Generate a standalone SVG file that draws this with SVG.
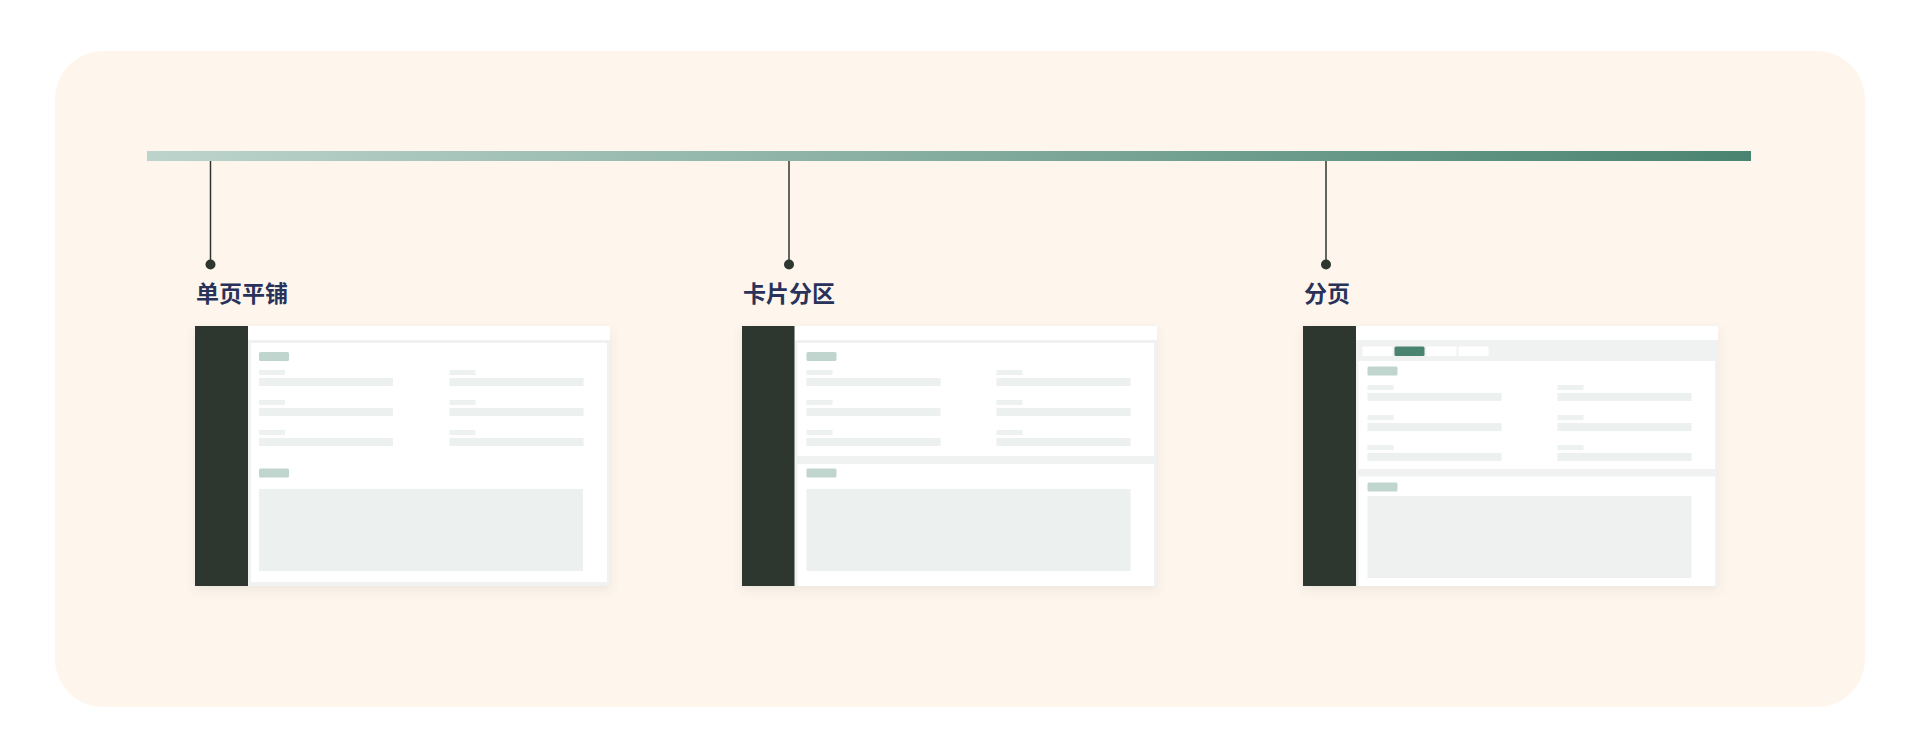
<svg xmlns="http://www.w3.org/2000/svg" width="1920" height="752" viewBox="0 0 1920 752">
<defs>
<linearGradient id="bar" x1="0" y1="0" x2="1" y2="0">
<stop offset="0" stop-color="#bdd4cc"/>
<stop offset="1" stop-color="#4a8470"/>
</linearGradient>
<filter id="sh" x="-8%" y="-10%" width="116%" height="125%">
<feDropShadow dx="0" dy="4" stdDeviation="5" flood-color="#5a5a60" flood-opacity="0.10"/>
</filter>
<g id="fields">
<rect x="0" y="0" width="26" height="5" class="lbl"/>
<rect x="0" y="8" width="134" height="8" class="fld"/>
<rect x="0" y="30" width="26" height="5" class="lbl"/>
<rect x="0" y="38" width="134" height="8" class="fld"/>
<rect x="0" y="60" width="26" height="5" class="lbl"/>
<rect x="0" y="68" width="134" height="8" class="fld"/>
</g>
</defs>
<style>
.bg{fill:#fef6ec}
.side{fill:#2d3730}
.win{fill:#f0f2f1}
.white{fill:#ffffff}
.chip{fill:#c0d5ce}
.lbl{fill:#edf1ef}
.fld{fill:#ecf0ee}
.blk{fill:#ecf0ee}
.tab{fill:#ffffff}
.tabon{fill:#4a8470}
.title{font-family:"Noto Sans CJK SC","Noto Sans",sans-serif;font-weight:700;font-size:23px;fill:#28325a}
.conn{stroke:#2d3730;stroke-width:1.5;fill:none}
.dot{fill:#2d3730}
</style>
<rect class="bg" x="55" y="51" width="1810" height="656" rx="48"/>
<rect x="147" y="151" width="1604" height="10" fill="url(#bar)"/>
<g id="connectors">
<line class="conn" x1="210.5" y1="161" x2="210.5" y2="264"/>
<circle class="dot" cx="210.5" cy="264.5" r="5"/>
<line class="conn" x1="789" y1="161" x2="789" y2="264"/>
<circle class="dot" cx="789" cy="264.5" r="5"/>
<line class="conn" x1="1326" y1="161" x2="1326" y2="264"/>
<circle class="dot" cx="1326" cy="264.5" r="5"/>
</g>
<g id="node-single">
<text class="title" x="196" y="302">单页平铺</text>
<g filter="url(#sh)">
<rect class="win" x="195" y="326" width="415" height="260"/>
</g>
<rect class="white" x="248" y="326" width="362" height="14"/>
<rect class="white" x="251" y="343" width="356" height="239"/>
<rect class="side" x="195" y="326" width="53" height="260"/>
<rect class="chip" x="259" y="352" width="30" height="9" rx="1.5"/>
<use href="#fields" x="259" y="370"/>
<use href="#fields" x="449.5" y="370"/>
<rect class="chip" x="259" y="468.5" width="30" height="9" rx="1.5"/>
<rect class="blk" x="259" y="489" width="324" height="82"/>
</g>
<g id="node-cards">
<text class="title" x="743" y="302">卡片分区</text>
<g filter="url(#sh)">
<rect class="win" x="742" y="326" width="415" height="260"/>
</g>
<rect class="white" x="795" y="326" width="362" height="14"/>
<rect class="white" x="797.5" y="343" width="356.5" height="113"/>
<rect class="white" x="797.5" y="464" width="356.5" height="122"/>
<rect class="side" x="742" y="326" width="52.5" height="260"/>
<rect class="chip" x="806.5" y="352" width="30" height="9" rx="1.5"/>
<use href="#fields" x="806.5" y="370"/>
<use href="#fields" x="996.5" y="370"/>
<rect class="chip" x="806.5" y="468.5" width="30" height="9" rx="1.5"/>
<rect class="blk" x="806.5" y="489" width="324" height="82"/>
</g>
<g id="node-paging">
<text class="title" x="1304" y="302">分页</text>
<g filter="url(#sh)">
<rect class="win" x="1303" y="326" width="415" height="260"/>
</g>
<rect class="white" x="1356" y="326" width="362" height="14"/>
<rect class="tab" x="1362.5" y="346.5" width="30" height="9.5" rx="1"/>
<rect class="tabon" x="1394.5" y="346.5" width="30" height="9.5" rx="1.5"/>
<rect class="tab" x="1426.5" y="346.5" width="30" height="9.5" rx="1"/>
<rect class="tab" x="1458.5" y="346.5" width="30" height="9.5" rx="1"/>
<rect class="white" x="1358.5" y="361" width="356.5" height="108"/>
<rect class="white" x="1358.5" y="476.5" width="356.5" height="109.5"/>
<rect class="side" x="1303" y="326" width="53" height="260"/>
<rect class="chip" x="1367.5" y="366.5" width="30" height="9" rx="1.5"/>
<use href="#fields" x="1367.5" y="385"/>
<use href="#fields" x="1557.5" y="385"/>
<rect class="chip" x="1367.5" y="482.5" width="30" height="9" rx="1.5"/>
<rect class="blk" x="1367.5" y="496" width="324" height="82" style="fill:#eef1f0"/>
</g>
</svg>
